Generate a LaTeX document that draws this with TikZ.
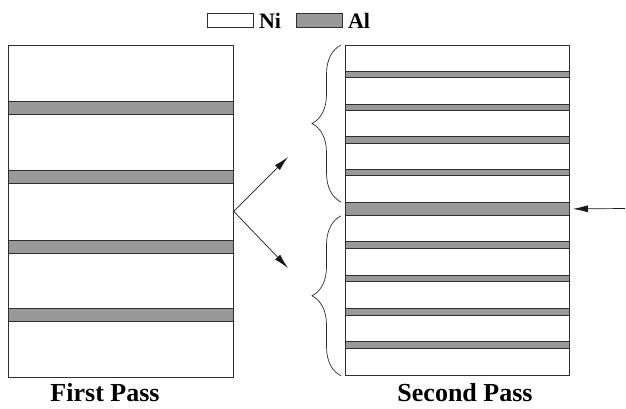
\documentclass[tikz,border=0pt]{standalone}
\usepackage{fontspec}
\setmainfont{Liberation Serif}
\usepackage{xcolor}
\usepackage{tikz}
\usetikzlibrary{
  arrows.meta,
  positioning,
  decorations.pathreplacing
}
\definecolor{alFill}{HTML}{999999}
\definecolor{layerStroke}{HTML}{2E2E2E}
\definecolor{arrowStroke}{HTML}{1A1A1A}
\tikzset{
  stack/.style={
    rectangle, draw=layerStroke, fill=white,
    line width=0.8pt, inner sep=0pt
  },
  al band/.style={
    draw=layerStroke, fill=alFill, line width=0.8pt, inner sep=0pt
  },
  arr/.style={-{Latex[length=15pt,width=7pt]},
    line width=0.7pt, draw=arrowStroke},
  brc/.style={decorate, decoration={brace, amplitude=29pt},
    line width=0.7pt, draw=layerStroke}
}

\begin{document}
\begin{tikzpicture}[
    x=1pt, y=-1pt,
    key/.style={font=\fontsize{22}{24}\selectfont\bfseries, inner sep=0pt},
    pass/.style={font=\fontsize{26}{30}\selectfont\bfseries, inner sep=0pt}
    ]
    \useasboundingbox (0,0) rectangle (626,408);

    % legend
    \node[stack, minimum width=46pt, minimum height=14pt,
          anchor=north west] (niKey) at (207,13) {};
    \node[key, right=5pt of niKey] (niLbl) {Ni};
    \node[al band, minimum width=46pt, minimum height=14pt,
          anchor=north west] (alKey) at (296,13) {};
    \node[key, right=5pt of alKey] (alLbl) {Al};

    % first pass: five Ni layers, four Al layers
    \node[stack, minimum width=225pt, minimum height=332pt,
          anchor=north west] (first) at (8,45) {};
    \foreach \y in {101,170,240,308}
      \draw[al band] (8,\y) rectangle ++(225,13.5);

    % second pass: two stacks joined by one thick Al layer
    \node[stack, minimum width=224pt, minimum height=330pt,
          anchor=north west] (second) at (345,45) {};
    \foreach \y in {71.2,103.9,136.6,169.3,241.8,275.1,308.4,341.7}
      \draw[al band] (345,\y) rectangle ++(224,6.5);
    \node[al band, minimum width=224pt, minimum height=13pt,
          anchor=north west] (mid) at (345,202) {};

    \draw[brc] ([xshift=-4pt]mid.north west) -- ([xshift=-4pt]second.north west);
    \draw[brc] ([xshift=-4pt]second.south west) -- ([xshift=-4pt]mid.south west);

    \coordinate (up) at (288,157);
    \coordinate (down) at (288,268);
    \coordinate (feed) at (625,208.5);
    \draw[arr] (first.east) -- (up);
    \draw[arr] (first.east) -- (down);
    \draw[arr] (feed) -- ([xshift=3pt]mid.east);

    \node[pass, anchor=base] (firstLbl) at (105,401) {First Pass};
    \node[pass, anchor=base] (secondLbl) at (465,401) {Second Pass};

  \end{tikzpicture}
\end{document}
